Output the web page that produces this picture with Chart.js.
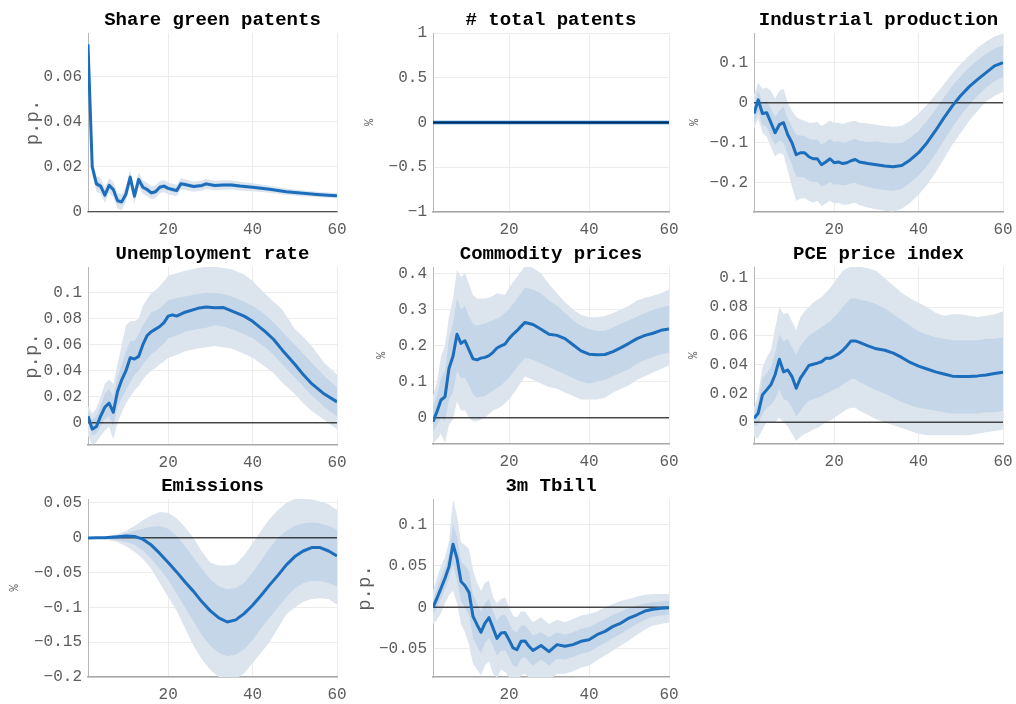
<!DOCTYPE html>
<html>
<head>
<meta charset="utf-8">
<script src="https://cdn.jsdelivr.net/npm/chart.js@4.4.1/dist/chart.umd.min.js"></script>
<style>
  html, body { margin: 0; padding: 0; background: #fff; overflow: hidden; }
  #page { position: relative; width: 1016px; height: 704px; }
  #page canvas { position: absolute; }
</style>
</head>
<body>
<div id="page"></div>
<script>
// horizon ticks shared by every panel
const xTicks = [20, 40, 60];

// Share green patents (p.p.)
const greenX    = [1,2,3,4,5,6,7,8,9,10,11,12,13,14,15,16,17,18,19,20,21,22,23,24,26,28,29,31,33,35,37,40,44,48,52,56,60];
const greenMean = [0.0745,0.0200,0.0125,0.0115,0.0075,0.0118,0.0100,0.0050,0.0045,0.0080,0.0155,0.0070,0.0145,0.0110,0.0100,0.0085,0.0090,0.0110,0.0115,0.0105,0.0100,0.0095,0.0125,0.0122,0.0113,0.0118,0.0125,0.0118,0.0120,0.0120,0.0115,0.0110,0.0101,0.0090,0.0083,0.0077,0.0072];
const greenLo90 = [0.0735,0.0165,0.0090,0.0080,0.0040,0.0085,0.0065,0.0015,0.0008,0.0045,0.0122,0.0037,0.0113,0.0080,0.0070,0.0057,0.0062,0.0083,0.0088,0.0079,0.0074,0.0070,0.0100,0.0098,0.0090,0.0096,0.0103,0.0097,0.0099,0.0100,0.0096,0.0092,0.0085,0.0076,0.0070,0.0065,0.0061];
const greenLo68 = [0.0740,0.0185,0.0110,0.0100,0.0060,0.0105,0.0087,0.0037,0.0031,0.0066,0.0142,0.0057,0.0132,0.0098,0.0088,0.0074,0.0079,0.0099,0.0104,0.0095,0.0090,0.0085,0.0115,0.0113,0.0104,0.0109,0.0116,0.0110,0.0112,0.0112,0.0108,0.0103,0.0095,0.0085,0.0078,0.0073,0.0068];
const greenHi68 = [0.0750,0.0215,0.0140,0.0130,0.0090,0.0131,0.0113,0.0063,0.0059,0.0094,0.0168,0.0083,0.0158,0.0122,0.0112,0.0096,0.0101,0.0121,0.0126,0.0115,0.0110,0.0105,0.0135,0.0131,0.0122,0.0127,0.0134,0.0126,0.0128,0.0128,0.0122,0.0117,0.0107,0.0095,0.0088,0.0081,0.0076];
const greenHi90 = [0.0755,0.0235,0.0160,0.0150,0.0110,0.0150,0.0133,0.0083,0.0080,0.0113,0.0188,0.0103,0.0177,0.0140,0.0130,0.0113,0.0118,0.0137,0.0142,0.0131,0.0126,0.0120,0.0150,0.0146,0.0136,0.0140,0.0147,0.0139,0.0141,0.0140,0.0134,0.0128,0.0117,0.0104,0.0096,0.0089,0.0083];
const greenYTicks = [0, 0.02, 0.04, 0.06];

// # total patents (%)
const totalX    = [1, 60];
const totalMean = [0, 0];
const totalLo90 = [0, 0];
const totalLo68 = [0, 0];
const totalHi68 = [0, 0];
const totalHi90 = [0, 0];
const totalYTicks = [-1, -0.5, 0, 0.5, 1];

// Industrial production (%)
const ipX    = [1,2,3,4,5,6,7,8,9,10,11,12,13,14,15,16,17,18,19,20,21,22,23,24,25,26,28,30,32,34,36,38,40,42,44,46,48,50,52,54,56,58,60];
const ipMean = [-0.027,0.007,-0.027,-0.025,-0.050,-0.075,-0.055,-0.050,-0.080,-0.100,-0.130,-0.125,-0.125,-0.135,-0.140,-0.140,-0.155,-0.148,-0.140,-0.150,-0.148,-0.152,-0.150,-0.145,-0.142,-0.148,-0.152,-0.155,-0.158,-0.160,-0.157,-0.143,-0.125,-0.100,-0.070,-0.038,-0.008,0.018,0.040,0.058,0.075,0.092,0.100];
const ipLo90 = [-0.065,-0.040,-0.075,-0.085,-0.110,-0.135,-0.125,-0.130,-0.170,-0.210,-0.245,-0.240,-0.238,-0.245,-0.250,-0.245,-0.258,-0.252,-0.245,-0.252,-0.250,-0.255,-0.255,-0.252,-0.250,-0.256,-0.262,-0.266,-0.270,-0.272,-0.265,-0.250,-0.230,-0.205,-0.175,-0.140,-0.105,-0.075,-0.045,-0.020,0.003,0.017,0.027];
const ipLo68 = [-0.050,-0.022,-0.055,-0.060,-0.085,-0.105,-0.095,-0.100,-0.130,-0.155,-0.185,-0.185,-0.187,-0.195,-0.198,-0.198,-0.210,-0.205,-0.198,-0.205,-0.203,-0.207,-0.205,-0.202,-0.200,-0.205,-0.211,-0.215,-0.218,-0.220,-0.215,-0.200,-0.182,-0.158,-0.128,-0.095,-0.062,-0.032,-0.005,0.018,0.038,0.054,0.064];
const ipHi68 = [-0.005,0.030,0.000,0.005,-0.015,-0.035,-0.020,-0.010,-0.040,-0.060,-0.080,-0.082,-0.083,-0.090,-0.093,-0.092,-0.105,-0.098,-0.090,-0.098,-0.096,-0.100,-0.098,-0.093,-0.090,-0.095,-0.098,-0.097,-0.100,-0.102,-0.100,-0.088,-0.070,-0.045,-0.018,0.013,0.042,0.066,0.088,0.106,0.122,0.135,0.143];
const ipHi90 = [0.020,0.050,0.035,0.038,0.030,0.010,0.030,0.035,0.000,-0.020,-0.035,-0.042,-0.045,-0.050,-0.050,-0.048,-0.058,-0.052,-0.045,-0.050,-0.050,-0.053,-0.050,-0.047,-0.045,-0.050,-0.052,-0.055,-0.058,-0.060,-0.058,-0.046,-0.027,-0.005,0.020,0.046,0.073,0.097,0.118,0.137,0.153,0.165,0.173];
const ipYTicks = [-0.2, -0.1, 0, 0.1];

// Unemployment rate (p.p.)
const unempX    = [1,2,3,4,5,6,7,8,9,10,11,12,13,14,15,16,17,18,19,20,21,22,24,27,29,31,33,35,38,40,43,45,47,50,52,54,57,60];
const unempMean = [0.005,-0.005,-0.003,0.005,0.012,0.015,0.008,0.024,0.033,0.040,0.050,0.049,0.051,0.060,0.067,0.070,0.072,0.074,0.077,0.082,0.083,0.082,0.085,0.088,0.089,0.0885,0.0887,0.086,0.082,0.078,0.070,0.064,0.056,0.045,0.037,0.030,0.022,0.016];
const unempLo90 = [-0.010,-0.017,-0.015,-0.010,-0.006,-0.003,-0.013,0.000,0.008,0.015,0.020,0.025,0.028,0.033,0.037,0.040,0.042,0.045,0.047,0.050,0.051,0.052,0.055,0.057,0.058,0.059,0.058,0.057,0.053,0.050,0.043,0.038,0.031,0.022,0.015,0.009,0.002,-0.005];
const unempLo68 = [0.001,-0.010,-0.008,-0.003,0.003,0.005,-0.003,0.012,0.019,0.025,0.031,0.037,0.040,0.045,0.049,0.053,0.055,0.058,0.061,0.065,0.066,0.067,0.070,0.072,0.073,0.075,0.074,0.072,0.068,0.065,0.058,0.052,0.045,0.035,0.028,0.021,0.012,0.005];
const unempHi68 = [0.009,0.002,0.005,0.013,0.022,0.026,0.020,0.035,0.045,0.055,0.063,0.063,0.068,0.075,0.080,0.085,0.086,0.088,0.091,0.094,0.095,0.096,0.097,0.099,0.100,0.100,0.099,0.097,0.093,0.090,0.083,0.077,0.070,0.060,0.053,0.046,0.036,0.027];
const unempHi90 = [0.013,0.007,0.011,0.020,0.030,0.033,0.030,0.045,0.060,0.075,0.078,0.078,0.080,0.090,0.095,0.100,0.102,0.105,0.109,0.113,0.114,0.115,0.117,0.119,0.120,0.120,0.119,0.118,0.114,0.109,0.099,0.093,0.087,0.072,0.066,0.059,0.046,0.037];
const unempYTicks = [0, 0.02, 0.04, 0.06, 0.08, 0.1];

// Commodity prices (%)
const commX    = [1,2,3,4,5,6,7,8,9,10,11,12,13,14,15,16,17,18,19,20,21,22,23,24,25,26,28,30,32,34,36,38,40,42,44,46,48,50,52,54,56,58,60];
const commMean = [-0.011,0.017,0.049,0.058,0.137,0.170,0.231,0.206,0.213,0.188,0.163,0.160,0.165,0.167,0.172,0.181,0.193,0.199,0.204,0.219,0.231,0.241,0.253,0.264,0.261,0.258,0.245,0.231,0.228,0.219,0.202,0.185,0.176,0.174,0.175,0.183,0.194,0.206,0.219,0.228,0.234,0.242,0.246];
const commLo90 = [-0.070,-0.060,-0.045,-0.070,-0.020,-0.005,0.045,0.020,0.020,0.000,-0.010,-0.010,-0.005,0.000,0.010,0.020,0.025,0.030,0.040,0.050,0.065,0.080,0.098,0.115,0.110,0.105,0.095,0.085,0.080,0.070,0.060,0.050,0.050,0.050,0.055,0.070,0.080,0.090,0.105,0.115,0.125,0.135,0.145];
const commLo68 = [-0.040,-0.020,0.000,-0.010,0.050,0.070,0.130,0.110,0.110,0.090,0.065,0.055,0.058,0.060,0.068,0.075,0.083,0.090,0.100,0.110,0.125,0.140,0.153,0.165,0.163,0.160,0.150,0.140,0.130,0.120,0.110,0.100,0.095,0.100,0.105,0.115,0.125,0.135,0.150,0.160,0.168,0.175,0.180];
const commHi68 = [0.030,0.060,0.110,0.130,0.220,0.260,0.330,0.300,0.310,0.280,0.260,0.255,0.258,0.260,0.265,0.270,0.275,0.280,0.290,0.300,0.315,0.330,0.345,0.360,0.358,0.355,0.345,0.325,0.310,0.290,0.270,0.255,0.245,0.240,0.240,0.250,0.260,0.270,0.280,0.290,0.298,0.305,0.310];
const commHi90 = [0.060,0.100,0.170,0.200,0.280,0.330,0.410,0.390,0.400,0.370,0.340,0.330,0.330,0.330,0.332,0.338,0.345,0.342,0.340,0.360,0.375,0.390,0.405,0.420,0.420,0.415,0.400,0.370,0.345,0.320,0.300,0.285,0.278,0.278,0.282,0.290,0.300,0.310,0.325,0.332,0.338,0.345,0.355];
const commYTicks = [0, 0.1, 0.2, 0.3, 0.4];

// PCE price index (%)
const pceX    = [1,2,3,4,5,6,7,8,9,10,11,12,13,14,15,16,17,18,19,20,21,22,23,24,25,26,28,30,32,34,36,38,40,42,44,46,48,50,52,54,56,58,60];
const pceMean = [0.0028,0.0063,0.0190,0.0225,0.0260,0.0330,0.0437,0.0350,0.0363,0.0317,0.0236,0.0306,0.0350,0.0394,0.0403,0.0410,0.0420,0.0444,0.0444,0.0458,0.0475,0.0498,0.0530,0.0565,0.0565,0.0555,0.0530,0.0510,0.0500,0.0480,0.0450,0.0415,0.0390,0.0370,0.0350,0.0335,0.0320,0.0317,0.0318,0.0322,0.0328,0.0338,0.0347];
const pceLo90 = [-0.010,-0.011,-0.005,0.000,0.000,0.000,0.003,0.000,-0.003,-0.008,-0.013,-0.010,-0.008,-0.007,-0.005,-0.004,-0.002,0.000,0.001,0.003,0.005,0.007,0.009,0.010,0.010,0.008,0.005,0.002,0.000,-0.002,-0.004,-0.006,-0.008,-0.009,-0.009,-0.009,-0.009,-0.009,-0.009,-0.008,-0.007,-0.006,-0.005];
const pceLo68 = [-0.003,-0.002,0.006,0.010,0.012,0.016,0.023,0.016,0.015,0.010,0.004,0.008,0.012,0.015,0.016,0.017,0.018,0.020,0.021,0.023,0.024,0.026,0.028,0.030,0.030,0.028,0.025,0.022,0.020,0.017,0.014,0.012,0.010,0.009,0.008,0.007,0.006,0.006,0.006,0.006,0.007,0.007,0.008];
const pceHi68 = [0.007,0.013,0.030,0.034,0.038,0.048,0.061,0.056,0.058,0.052,0.047,0.053,0.057,0.060,0.062,0.064,0.066,0.068,0.070,0.073,0.076,0.080,0.083,0.086,0.086,0.085,0.084,0.082,0.079,0.075,0.071,0.067,0.063,0.061,0.059,0.058,0.057,0.057,0.057,0.057,0.058,0.058,0.059];
const pceHi90 = [0.010,0.020,0.038,0.045,0.050,0.065,0.080,0.075,0.076,0.070,0.064,0.073,0.077,0.080,0.083,0.085,0.087,0.090,0.093,0.097,0.101,0.105,0.107,0.108,0.108,0.108,0.107,0.105,0.100,0.095,0.090,0.086,0.083,0.080,0.076,0.074,0.075,0.075,0.074,0.073,0.074,0.075,0.077];
const pceYTicks = [0, 0.02, 0.04, 0.06, 0.08, 0.1];

// Emissions (%)
const emisX    = [1,3,5,8,10,12,14,16,18,20,22,24,26,28,30,32,34,36,38,40,42,44,46,48,50,52,54,56,58,60];
const emisMean = [-0.0005,0.000,0.000,0.0015,0.0025,0.002,-0.002,-0.0105,-0.0225,-0.0355,-0.049,-0.0635,-0.077,-0.092,-0.105,-0.115,-0.121,-0.118,-0.109,-0.097,-0.083,-0.068,-0.054,-0.039,-0.027,-0.019,-0.014,-0.014,-0.019,-0.026];
const emisLo90 = [-0.002,-0.0015,-0.002,-0.006,-0.012,-0.020,-0.030,-0.045,-0.065,-0.085,-0.105,-0.130,-0.155,-0.175,-0.190,-0.200,-0.205,-0.203,-0.195,-0.180,-0.165,-0.150,-0.130,-0.110,-0.100,-0.092,-0.088,-0.087,-0.088,-0.096];
const emisLo68 = [-0.0015,-0.001,-0.001,-0.004,-0.006,-0.010,-0.018,-0.030,-0.045,-0.060,-0.080,-0.100,-0.120,-0.140,-0.155,-0.165,-0.170,-0.168,-0.160,-0.147,-0.130,-0.115,-0.100,-0.085,-0.073,-0.065,-0.062,-0.062,-0.065,-0.070];
const emisHi68 = [0.0005,0.0008,0.001,0.003,0.006,0.010,0.013,0.016,0.017,0.013,0.003,-0.012,-0.028,-0.045,-0.060,-0.070,-0.074,-0.072,-0.065,-0.050,-0.033,-0.015,0.000,0.010,0.017,0.021,0.022,0.021,0.017,0.012];
const emisHi90 = [0.001,0.001,0.002,0.005,0.010,0.017,0.025,0.032,0.037,0.036,0.028,0.015,0.000,-0.020,-0.036,-0.040,-0.040,-0.038,-0.025,-0.008,0.010,0.027,0.040,0.050,0.056,0.056,0.055,0.052,0.048,0.040];
const emisYTicks = [-0.2, -0.15, -0.1, -0.05, 0, 0.05];

// 3m Tbill (p.p.)
const tbillX    = [1,2,3,4,5,6,7,8,9,10,11,12,13,14,15,16,17,18,19,20,21,22,23,24,25,26,28,30,32,34,36,38,40,42,44,46,48,50,52,54,56,58,60];
const tbillMean = [0.000,0.011,0.023,0.035,0.049,0.076,0.059,0.031,0.026,0.018,-0.011,-0.021,-0.030,-0.019,-0.0125,-0.025,-0.0375,-0.031,-0.0305,-0.039,-0.049,-0.051,-0.041,-0.0405,-0.047,-0.052,-0.046,-0.0535,-0.045,-0.047,-0.045,-0.041,-0.039,-0.033,-0.029,-0.023,-0.019,-0.013,-0.009,-0.0045,-0.0024,-0.0012,-0.0004];
const tbillLo90 = [-0.020,-0.015,-0.007,0.005,0.015,0.020,0.005,-0.020,-0.030,-0.045,-0.068,-0.075,-0.082,-0.070,-0.065,-0.080,-0.085,-0.075,-0.078,-0.084,-0.090,-0.092,-0.082,-0.080,-0.085,-0.090,-0.085,-0.088,-0.080,-0.080,-0.077,-0.073,-0.070,-0.064,-0.058,-0.052,-0.046,-0.040,-0.033,-0.027,-0.022,-0.020,-0.018];
const tbillLo68 = [-0.008,0.000,0.010,0.022,0.034,0.052,0.033,0.007,0.000,-0.010,-0.037,-0.047,-0.055,-0.043,-0.037,-0.047,-0.058,-0.052,-0.052,-0.060,-0.070,-0.072,-0.062,-0.060,-0.066,-0.070,-0.063,-0.070,-0.062,-0.063,-0.060,-0.056,-0.054,-0.048,-0.043,-0.037,-0.032,-0.026,-0.020,-0.015,-0.011,-0.010,-0.009];
const tbillHi68 = [0.008,0.022,0.036,0.048,0.064,0.100,0.085,0.055,0.050,0.043,0.015,0.005,-0.005,0.005,0.010,-0.005,-0.016,-0.010,-0.009,-0.018,-0.028,-0.030,-0.022,-0.022,-0.028,-0.034,-0.030,-0.036,-0.030,-0.033,-0.030,-0.026,-0.024,-0.019,-0.014,-0.009,-0.005,-0.001,0.002,0.005,0.006,0.007,0.008];
const tbillHi90 = [0.020,0.035,0.050,0.060,0.080,0.130,0.110,0.078,0.075,0.070,0.045,0.030,0.020,0.030,0.032,0.012,0.005,0.010,0.012,0.000,-0.010,-0.012,-0.005,-0.005,-0.012,-0.018,-0.012,-0.020,-0.015,-0.018,-0.014,-0.010,-0.008,-0.005,0.000,0.004,0.008,0.010,0.013,0.015,0.016,0.016,0.016];
const tbillYTicks = [-0.05, 0, 0.05, 0.1];

// plot boxes are [left, top, right, bottom] in page pixels; labelX is the y-label centre
const panels = [
  { title: 'Share green patents', unit: 'p.p.', x: greenX, mean: greenMean, lo90: greenLo90, lo68: greenLo68, hi68: greenHi68, hi90: greenHi90, yTicks: greenYTicks, yMin: 0, yMax: 0.0795, box: [88, 33, 337, 212], labelX: 33 },
  { title: '# total patents', unit: '%', x: totalX, mean: totalMean, lo90: totalLo90, lo68: totalLo68, hi68: totalHi68, hi90: totalHi90, yTicks: totalYTicks, yMin: -1, yMax: 1, box: [433, 33, 669, 212], labelX: 370, zeroOnTop: true },
  { title: 'Industrial production', unit: '%', x: ipX, mean: ipMean, lo90: ipLo90, lo68: ipLo68, hi68: ipHi68, hi90: ipHi90, yTicks: ipYTicks, yMin: -0.273, yMax: 0.174, box: [754, 33, 1003, 212], labelX: 695 },
  { title: 'Unemployment rate', unit: 'p.p.', x: unempX, mean: unempMean, lo90: unempLo90, lo68: unempLo68, hi68: unempHi68, hi90: unempHi90, yTicks: unempYTicks, yMin: -0.0172, yMax: 0.1198, box: [88, 267, 337, 445], labelX: 32 },
  { title: 'Commodity prices', unit: '%', x: commX, mean: commMean, lo90: commLo90, lo68: commLo68, hi68: commHi68, hi90: commHi90, yTicks: commYTicks, yMin: -0.073, yMax: 0.4175, box: [433, 267, 669, 444], labelX: 382 },
  { title: 'PCE price index', unit: '%', x: pceX, mean: pceMean, lo90: pceLo90, lo68: pceLo68, hi68: pceHi68, hi90: pceHi90, yTicks: pceYTicks, yMin: -0.0151, yMax: 0.1078, box: [754, 267, 1003, 444], labelX: 694 },
  { title: 'Emissions', unit: '%', x: emisX, mean: emisMean, lo90: emisLo90, lo68: emisLo68, hi68: emisHi68, hi90: emisHi90, yTicks: emisYTicks, yMin: -0.2, yMax: 0.0557, box: [88, 499, 337, 677], labelX: 15 },
  { title: '3m Tbill', unit: 'p.p.', x: tbillX, mean: tbillMean, lo90: tbillLo90, lo68: tbillLo68, hi68: tbillHi68, hi90: tbillHi90, yTicks: tbillYTicks, yMin: -0.084, yMax: 0.1305, box: [433, 499, 669, 677], labelX: 365 }
];

const AXIS_W = 88, TOP_H = 33, BOTTOM_H = 30, RIGHT_PAD = 20;
const MONO = "'Liberation Mono', 'Courier New', monospace";
const TICK_COLOR = '#5c5c5c';
const GRID_COLOR = '#ececec';
const OUTER_BAND = '#dce4ee';
const INNER_BAND = '#c4d6e8';
const LINE_COLOR = '#1c6dbb';

function toPoints(xs, ys) {
  return xs.map((x, i) => ({ x: x, y: ys[i] }));
}

function fmtTick(v) {
  if (v === 0) return '0';
  return String(v).replace('-', '\u2212');
}

function drawPanel(p) {
  const [l, t, r, b] = p.box;
  const w = r - l + AXIS_W + RIGHT_PAD;
  const h = b - t + TOP_H + BOTTOM_H;
  const canvas = document.createElement('canvas');
  canvas.width = w;
  canvas.height = h;
  canvas.style.left = (l - AXIS_W) + 'px';
  canvas.style.top = (t - TOP_H) + 'px';
  canvas.style.width = w + 'px';
  canvas.style.height = h + 'px';
  document.getElementById('page').appendChild(canvas);

  const unitSize = p.unit === '%' ? 12 : 19;
  const unitPad = p.labelX - (l - AXIS_W) - unitSize * 1.2 / 2;
  const band = { pointRadius: 0, borderWidth: 0, tension: 0 };

  new Chart(canvas.getContext('2d'), {
    type: 'line',
    data: {
      datasets: [
        Object.assign({ data: toPoints(p.x, p.lo90), fill: false, order: 5 }, band),
        Object.assign({ data: toPoints(p.x, p.hi90), fill: '-1', backgroundColor: OUTER_BAND, order: 4 }, band),
        Object.assign({ data: toPoints(p.x, p.lo68), fill: false, order: 3 }, band),
        Object.assign({ data: toPoints(p.x, p.hi68), fill: '-1', backgroundColor: INNER_BAND, order: 2 }, band),
        { data: toPoints(p.x, p.mean), borderColor: LINE_COLOR, borderWidth: p.zeroOnTop ? 3.5 : 3, pointRadius: 0, fill: false, tension: 0, borderJoinStyle: 'round', order: p.zeroOnTop ? 1 : 0 },
        // zero reference line
        { data: [{ x: 1, y: 0 }, { x: 60, y: 0 }], borderColor: p.zeroOnTop ? 'rgba(0,20,50,0.8)' : 'rgba(0,0,0,0.7)', borderWidth: 1.5, pointRadius: 0, fill: false, order: p.zeroOnTop ? 0 : 1 }
      ]
    },
    options: {
      responsive: false,
      animation: false,
      devicePixelRatio: 1,
      events: [],
      layout: { padding: { left: 0, right: RIGHT_PAD, top: 0, bottom: 0 } },
      plugins: {
        legend: { display: false },
        tooltip: { enabled: false },
        title: {
          display: true,
          text: p.title,
          fullSize: false,
          color: '#000',
          font: { family: MONO, size: 19, weight: 'bold', lineHeight: 1.2 },
          padding: { top: 8.6, bottom: 1.6 }
        }
      },
      scales: {
        x: {
          type: 'linear',
          min: 1,
          max: 60,
          afterBuildTicks: s => { s.ticks = xTicks.map(v => ({ value: v })); },
          afterFit: s => { s.height = BOTTOM_H; },
          grid: { color: GRID_COLOR, drawTicks: false },
          border: { color: '#a6a6a6', width: 1.5 },
          ticks: { color: TICK_COLOR, font: { family: MONO, size: 16 }, padding: 8, maxRotation: 0, autoSkip: false }
        },
        y: {
          type: 'linear',
          min: p.yMin,
          max: p.yMax,
          afterBuildTicks: s => { s.ticks = p.yTicks.map(v => ({ value: v })); },
          afterFit: s => { s.width = AXIS_W; },
          grid: { color: GRID_COLOR, drawTicks: false },
          border: { color: '#b8b8b8', width: 1 },
          ticks: { color: TICK_COLOR, font: { family: MONO, size: 16 }, padding: 6, autoSkip: false, callback: v => fmtTick(v) },
          title: {
            display: true,
            text: p.unit,
            color: TICK_COLOR,
            font: { family: MONO, size: unitSize, lineHeight: 1.2 },
            padding: { top: unitPad, bottom: 0 }
          }
        }
      }
    }
  });
}

panels.forEach(drawPanel);
</script>
</body>
</html>
